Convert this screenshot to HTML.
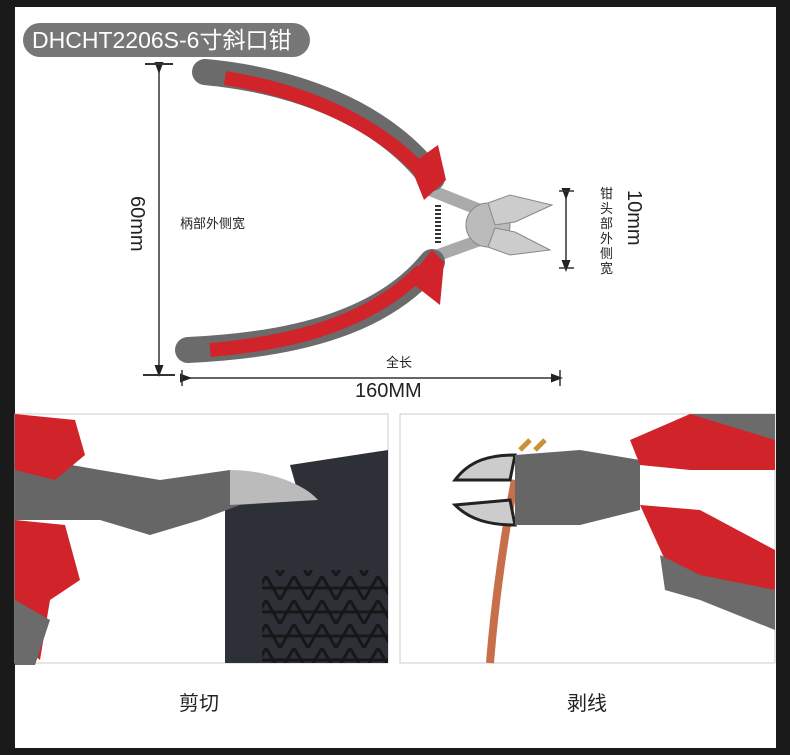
<!DOCTYPE html>
<html><head><meta charset="utf-8"><style>
html,body{margin:0;padding:0;background:#1a1a1a;}
body{width:790px;height:755px;position:relative;overflow:hidden;font-family:"Liberation Sans","Noto Sans CJK SC",sans-serif;}
.w{position:absolute;left:15px;top:7px;width:761px;height:741px;background:#fff;}
.pill{position:absolute;left:23px;top:23px;width:287px;height:34px;border-radius:17px;background:#777;color:#fff;font-size:23px;line-height:34px;padding-left:9px;box-sizing:border-box;white-space:nowrap;}
.t{position:absolute;color:#222;white-space:nowrap;}
svg{position:absolute;left:0;top:0;}
</style></head><body>
<div class="w"></div>
<svg width="790" height="755" viewBox="0 0 790 755">
<defs><marker id="a" markerWidth="8" markerHeight="8" refX="4" refY="4" orient="auto"><path d="M0,1 L8,4 L0,7z" fill="#222"/></marker>
<pattern id="tri" width="28" height="24" patternUnits="userSpaceOnUse"><path d="M0,24 L14,0 L28,24 M0,12 H28" stroke="#111" stroke-width="3" fill="none"/></pattern></defs>
<!-- dimension lines -->
<line x1="159" y1="68" x2="159" y2="371" stroke="#333" stroke-width="1.5" marker-start="url(#a)" marker-end="url(#a)"/>
<line x1="145" y1="64" x2="173" y2="64" stroke="#333" stroke-width="2"/>
<line x1="143" y1="375" x2="175" y2="375" stroke="#333" stroke-width="2"/>
<line x1="186" y1="378" x2="557" y2="378" stroke="#333" stroke-width="1.5" marker-start="url(#a)" marker-end="url(#a)"/>
<line x1="182" y1="370" x2="182" y2="386" stroke="#333" stroke-width="1.5"/>
<line x1="560" y1="370" x2="560" y2="386" stroke="#333" stroke-width="1.5"/>
<line x1="566" y1="194" x2="566" y2="266" stroke="#333" stroke-width="1.5" marker-start="url(#a)" marker-end="url(#a)"/>
<line x1="559" y1="191" x2="574" y2="191" stroke="#333" stroke-width="1.5"/>
<line x1="559" y1="268" x2="574" y2="268" stroke="#333" stroke-width="1.5"/>
<!-- pliers -->
<path d="M430,190 L480,210 M430,258 L480,240" stroke="#aaa" stroke-width="12"/>
<path d="M438,205 L438,245" stroke="#333" stroke-width="6" stroke-dasharray="2 2"/>
<circle cx="488" cy="225" r="22" fill="#bbb" stroke="#888"/>
<path d="M488,203 L510,195 L552,205 L515,222 L495,225z" fill="#ccc" stroke="#888"/>
<path d="M488,247 L510,255 L550,250 L515,232 L495,228z" fill="#ccc" stroke="#888"/>
<path d="M205,72 C290,80 380,110 432,178" stroke="#6b6b6b" stroke-width="26" fill="none" stroke-linecap="round"/>
<path d="M225,78 C300,90 375,120 425,175" stroke="#d0232a" stroke-width="14" fill="none"/>
<path d="M188,350 C300,345 385,320 432,262" stroke="#6b6b6b" stroke-width="26" fill="none" stroke-linecap="round"/>
<path d="M210,350 C305,342 375,318 422,270" stroke="#d0232a" stroke-width="14" fill="none"/>
<path d="M410,165 L438,145 L446,180 L424,200z" fill="#d0232a"/>
<path d="M408,280 L432,250 L444,262 L440,305z" fill="#d0232a"/>
<!-- left photo -->
<rect x="15" y="414" width="373" height="249" fill="#fff" stroke="#ccc"/>
<rect x="225" y="490" width="163" height="173" fill="#2d3037"/>
<rect x="262" y="570" width="126" height="93" fill="url(#tri)" opacity=".8"/>
<path d="M290,465 L388,450 L388,500 L300,500z" fill="#2d3037"/>
<path d="M15,455 L100,470 L160,480 L230,470 L270,480 L310,500 L240,505 L200,520 L150,535 L100,520 L15,520z" fill="#666"/>
<path d="M230,470 C260,470 300,480 318,500 L230,505z" fill="#bbb"/>
<path d="M15,414 L75,420 L85,455 L55,480 L15,470z" fill="#d0232a"/>
<path d="M15,520 L65,525 L80,580 L50,600 L40,660 L15,640z" fill="#d0232a"/>
<path d="M15,600 L50,620 L35,665 L15,665z" fill="#6b6b6b"/>
<!-- right photo -->
<rect x="400" y="414" width="375" height="249" fill="#fff" stroke="#ccc"/>
<path d="M490,663 C495,600 505,530 515,480" stroke="#c66f4a" stroke-width="8" fill="none"/>
<path d="M520,450 L530,440 M535,450 L545,440" stroke="#c9913a" stroke-width="5"/>
<path d="M455,480 C470,460 490,455 515,455 L510,480z M455,505 C470,520 490,525 515,525 L510,500z" fill="#ccc" stroke="#222" stroke-width="3"/>
<path d="M515,455 L580,450 L640,460 L640,510 L580,525 L515,525z" fill="#666"/>
<path d="M630,440 L690,414 L775,414 L775,470 L690,470 L640,465z" fill="#d0232a"/>
<path d="M640,505 L700,510 L775,550 L775,590 L700,580 L665,560z" fill="#d0232a"/>
<path d="M660,555 L700,575 L775,590 L775,630 L700,600 L665,590z" fill="#6b6b6b"/>
<path d="M690,414 L775,414 L775,440z" fill="#6b6b6b"/>
</svg>
<div class="pill">DHCHT2206S-6寸斜口钳</div>
<div class="t" style="left:180px;top:213px;font-size:13px;">柄部外侧宽</div>
<div class="t" style="left:122px;top:244px;font-size:20px;transform:rotate(90deg);transform-origin:0 0;left:148px;top:196px;">60mm</div>
<div class="t" style="left:386px;top:352px;font-size:13px;">全长</div>
<div class="t" style="left:355px;top:380px;font-size:20px;">160MM</div>
<div class="t" style="left:600px;top:186px;font-size:13px;width:14px;line-height:15px;white-space:normal;">钳头部外侧宽</div>
<div class="t" style="font-size:20px;transform:rotate(90deg);transform-origin:0 0;left:645px;top:190px;">10mm</div>
<div class="t" style="left:179px;top:687px;font-size:20px;">剪切</div>
<div class="t" style="left:567px;top:687px;font-size:20px;">剥线</div>
</body></html>
